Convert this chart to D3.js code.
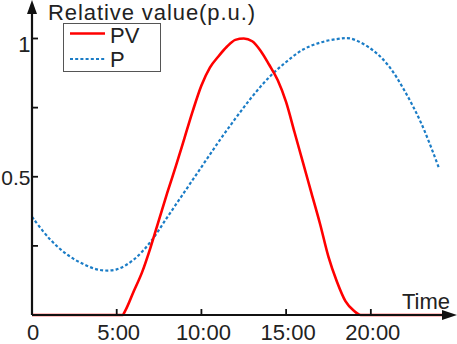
<!DOCTYPE html>
<html><head><meta charset="utf-8">
<script src="https://cdn.jsdelivr.net/npm/d3@7"></script>
<style>body{margin:0;background:#fff}svg{display:block}</style>
</head><body><svg id="c" width="457" height="344"></svg>
<script>
const pvHours = [0,0.5,1,1.5,2,2.5,3,3.5,4,4.5,5,5.35,5.5,6,6.5,7,7.5,8,8.5,9,9.5,10,10.5,11,11.5,12,12.5,13,13.5,14,14.5,15,15.5,16,16.5,17,17.5,18,18.5,19,19.4,20,21,22,23,24.4];
const pvValues = [0,0,0,0,0,0,0,0,0,0,0,0,0.015,0.085,0.155,0.245,0.345,0.445,0.54,0.64,0.74,0.83,0.895,0.935,0.97,0.995,1.0,0.99,0.955,0.905,0.85,0.77,0.66,0.55,0.44,0.33,0.21,0.12,0.05,0.015,0,0,0,0,0,0];
const pHours = [0,1,2,3,4,5,6,7,8,9,10,11,12,13,14,15,16,17,18,18.8,20,21,22,23,24];
const pValues = [0.355,0.278,0.222,0.185,0.163,0.165,0.2,0.265,0.355,0.445,0.535,0.625,0.71,0.79,0.86,0.915,0.96,0.985,0.998,1.0,0.963,0.905,0.81,0.69,0.535];
const xTicks = [0,5,10,15,20];
const xTickLabels = ["0","5:00","10:00","15:00","20:00"];
const yTicks = [0.25,0.5,0.75,1];
const yTickLabels = {0.5:"0.5",1:"1"};
const seriesNames = ["PV","P"];

const FONT = "Liberation Sans, Arial, sans-serif";
const svg = d3.select("#c");
const x = d3.scaleLinear().domain([0,24]).range([32,438.6]);
const y = d3.scaleLinear().domain([0,1]).range([315,38.5]);
const fs = 22;
function txt(sel){ return sel.attr("font-family",FONT).attr("font-size",fs).attr("fill","#222"); }

// lines
svg.append("path").datum(pHours.map((h,i)=>[h,pValues[i]]))
  .attr("d", d3.line().x(d=>x(d[0])).y(d=>y(d[1])).curve(d3.curveCatmullRom.alpha(0.5))).attr("fill","none")
  .attr("stroke","#1a7cc6").attr("stroke-width",2.2).attr("stroke-dasharray","3,2.2");
svg.append("path").datum(pvHours.map((h,i)=>[h,pvValues[i]]))
  .attr("d", d3.line().x(d=>x(d[0])).y(d=>y(d[1])).curve(d3.curveMonotoneX)).attr("fill","none")
  .attr("stroke","#ff0000").attr("stroke-width",2.6);

// axes
const axisG = svg.append("g").attr("stroke","#111").attr("stroke-width",2.2);
axisG.append("line").attr("x1",x(0)).attr("y1",y(0)).attr("x2",446).attr("y2",y(0));
axisG.append("line").attr("x1",x(0)).attr("y1",y(0)).attr("x2",x(0)).attr("y2",10);
svg.append("path").attr("d",`M457,${y(0)} L442,${y(0)-5} L442,${y(0)+5} Z`).attr("fill","#111");
svg.append("path").attr("d",`M${x(0)},0 L${x(0)-5},14 L${x(0)+5},14 Z`).attr("fill","#111");

// ticks
svg.selectAll(".xt").data(xTicks.slice(1)).enter().append("line")
  .attr("x1",d=>x(d)).attr("x2",d=>x(d)).attr("y1",y(0)).attr("y2",y(0)-6)
  .attr("stroke","#111").attr("stroke-width",1.8);
svg.selectAll(".yt").data(yTicks).enter().append("line")
  .attr("x1",x(0)).attr("x2",x(0)+6).attr("y1",d=>y(d)).attr("y2",d=>y(d))
  .attr("stroke","#111").attr("stroke-width",1.8);

txt(svg.selectAll(".xl").data(xTicks).enter().append("text")
  .attr("x",(d,i)=>x(d)+(i===0?1:2)).attr("y",340).attr("text-anchor","middle"))
  .text((d,i)=>xTickLabels[i]);
txt(svg.selectAll(".yl").data(yTicks.filter(d=>yTickLabels[d])).enter().append("text")
  .attr("x",30.5).attr("y",d=>y(d)+(d===1?13:8)).attr("text-anchor","end"))
  .attr("font-size",d=>d===1?22:21)
  .text(d=>yTickLabels[d]);

txt(svg.append("text").attr("x",48).attr("y",20)).attr("textLength",207).text("Relative value(p.u.)");
txt(svg.append("text").attr("x",450).attr("y",309).attr("text-anchor","end")).text("Time");

// legend
const lg = svg.append("g");
lg.append("rect").attr("x",63.5).attr("y",23.5).attr("width",97).attr("height",48)
  .attr("fill","#fff").attr("stroke","#555").attr("stroke-width",1);
lg.append("line").attr("x1",70).attr("x2",105).attr("y1",33.5).attr("y2",33.5)
  .attr("stroke","#ff0000").attr("stroke-width",2.6);
lg.append("line").attr("x1",70).attr("x2",105).attr("y1",59).attr("y2",59)
  .attr("stroke","#1a7cc6").attr("stroke-width",2.2).attr("stroke-dasharray","3,2.2");
txt(lg.append("text").attr("x",110).attr("y",43)).text(seriesNames[0]);
txt(lg.append("text").attr("x",110).attr("y",67)).text(seriesNames[1]);
</script></body></html>
